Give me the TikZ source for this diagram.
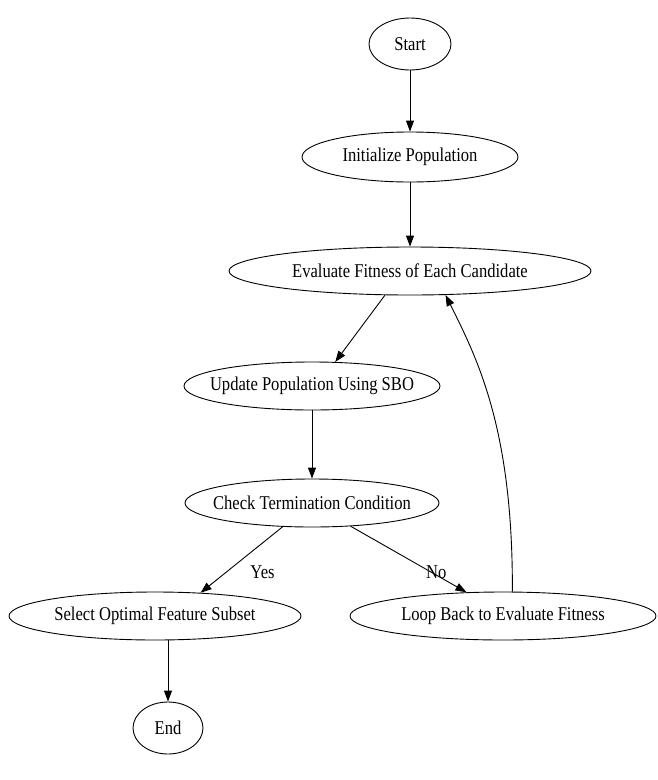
\documentclass[tikz,border=0pt]{standalone}
\usepackage{fontspec}
\setmainfont{Liberation Serif}
\newfontfamily\dotfont[FakeStretch=0.85]{Liberation Serif}
\usetikzlibrary{shapes.geometric,arrows.meta}

\tikzset{
  stepnode/.style={draw, ellipse, line width=0.9pt, inner sep=0pt, font=\dotfont\fontsize{19.5}{23}\selectfont,
    execute at begin node={\hbox to 0pt\bgroup\hss}, execute at end node={\hss\egroup}},
  flow/.style={-{Triangle[length=11pt,width=8pt]}, line width=0.9pt},
  edgelabel/.style={font=\dotfont\fontsize{19.5}{23}\selectfont, inner sep=1pt}
}

\begin{document}
\begin{tikzpicture}[x=1pt,y=-1pt]
      \useasboundingbox (0,0) rectangle (657,780);

      \node[stepnode, minimum width=82pt, minimum height=52pt] (start) at (410,44) {Start};
      \node[stepnode, minimum width=216pt, minimum height=50pt] (init) at (410,157) {Initialize Population};
      \node[stepnode, minimum width=362pt, minimum height=48pt] (eval) at (410,271) {Evaluate Fitness of Each Candidate};
      \node[stepnode, minimum width=256pt, minimum height=48pt] (update) at (312,386) {Update Population Using SBO};
      \node[stepnode, minimum width=254pt, minimum height=48pt] (check) at (312,503) {Check Termination Condition};
      \node[stepnode, minimum width=292pt, minimum height=48pt] (select) at (155,616) {Select Optimal Feature Subset};
      \node[stepnode, minimum width=306pt, minimum height=48pt] (loop) at (503,616) {Loop Back to Evaluate Fitness};
      \node[stepnode, minimum width=70pt, minimum height=52pt] (end) at (168,728) {End};

      \draw[flow] (start) -- (init);
      \draw[flow] (init) -- (eval);
      \draw[flow] (eval.-136) -- (update.46);
      \draw[flow] (update) -- (check);
      \draw[flow] (check.-141) -- node[edgelabel, pos=0.69, anchor=west, xshift=23pt] {Yes} (select.27);
      \draw[flow] (check.-31) -- node[edgelabel, pos=0.69, anchor=west, xshift=-6pt] {No} (loop.147);
      \draw[flow] (loop.69) .. controls (513,430) and (478,360) .. (eval.-34);
      \draw[flow] (select.south -| end) -- (end);
    \end{tikzpicture}
\end{document}
